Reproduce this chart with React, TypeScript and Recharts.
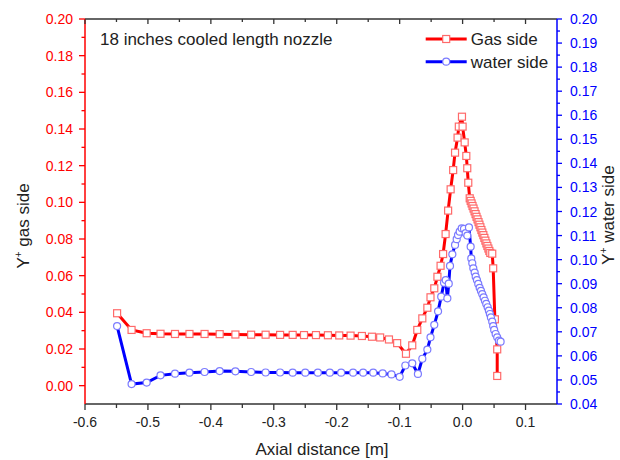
import React from 'react';
import { LineChart, Line, XAxis, YAxis, Customized } from 'recharts';

const FONT = '"Liberation Sans", Arial, Helvetica, sans-serif';

// Gas side (left axis)
const gasX = [
  -0.549, -0.526, -0.502, -0.48, -0.457, -0.434, -0.41, -0.386, -0.361, -0.336,
  -0.313, -0.29, -0.27, -0.252, -0.233, -0.214, -0.196, -0.178, -0.16, -0.144,
  -0.131, -0.117, -0.104, -0.09, -0.08, -0.072, -0.064, -0.056, -0.051, -0.045,
  -0.04, -0.035, -0.031, -0.027, -0.023, -0.019, -0.015, -0.012, -0.008, -0.006,
  -0.001, 0.0, 0.0033, 0.0059, 0.0074, 0.009, 0.0113,
  0.0128, 0.0143, 0.0158, 0.0174, 0.019, 0.0206, 0.0221, 0.0237, 0.0253, 0.0268,
  0.0283, 0.0299, 0.0314, 0.033, 0.0346, 0.0362, 0.0378, 0.0394, 0.041, 0.0425,
  0.044, 0.0471, 0.0486, 0.0513, 0.055, 0.055,
];
const gasY = [
  0.0395, 0.0304, 0.0286, 0.0283, 0.0282, 0.0282, 0.0282, 0.0281, 0.0279, 0.0278,
  0.0278, 0.0277, 0.0277, 0.0276, 0.0276, 0.0275, 0.0274, 0.0273, 0.0271, 0.0267,
  0.0263, 0.0252, 0.0232, 0.0174, 0.022, 0.0304, 0.0367, 0.0425, 0.0482, 0.0531,
  0.0594, 0.0654, 0.0718, 0.0827, 0.0955, 0.1071, 0.1176, 0.1271, 0.1353, 0.1413,
  0.1467, 0.1413, 0.1327, 0.1253, 0.1186, 0.1107, 0.1022,
  0.1008, 0.0994, 0.098, 0.0966, 0.0951, 0.0936, 0.0921, 0.0907, 0.0892, 0.0878,
  0.0864, 0.0849, 0.0835, 0.0821, 0.0806, 0.0791, 0.0776, 0.0762, 0.0748, 0.0735,
  0.0724, 0.072, 0.064, 0.0362, 0.0198, 0.0053,
];

// Water side (right axis)
const waterX = [
  -0.549, -0.526, -0.502, -0.48, -0.457, -0.434, -0.41, -0.386, -0.361, -0.336,
  -0.313, -0.29, -0.27, -0.25, -0.23, -0.211, -0.193, -0.174, -0.158, -0.142,
  -0.127, -0.113, -0.1, -0.091, -0.08, -0.071, -0.064, -0.056, -0.051, -0.045,
  -0.039, -0.034, -0.0295, -0.0268, -0.0242, -0.022, -0.02, -0.0163, -0.012, -0.0094,
  -0.0073, -0.0046, -0.0014, 0.0022, 0.0049, 0.0075, 0.0101,
  0.0128, 0.0138, 0.0154, 0.017, 0.0192, 0.0208, 0.0228, 0.0249, 0.0271, 0.0292,
  0.0312, 0.0334, 0.0355, 0.0376, 0.0398, 0.0418, 0.0434, 0.045, 0.0471, 0.0486,
  0.0502, 0.0525, 0.055, 0.0577, 0.0604,
];
const waterY = [
  0.0724, 0.0483, 0.0489, 0.0519, 0.0526, 0.053, 0.0533, 0.0537, 0.0536, 0.0533,
  0.0531, 0.0531, 0.053, 0.053, 0.053, 0.053, 0.053, 0.053, 0.053, 0.053,
  0.0527, 0.0523, 0.0513, 0.056, 0.0569, 0.0525, 0.0588, 0.0626, 0.0677, 0.0729,
  0.0785, 0.0846, 0.0904, 0.0915, 0.0839, 0.09, 0.0974, 0.1022, 0.1061, 0.1085,
  0.1102, 0.1116, 0.113, 0.1128, 0.111, 0.11, 0.1134,
  0.1054, 0.1005, 0.0985, 0.0964, 0.0946, 0.0929, 0.0915, 0.0899, 0.0883, 0.087,
  0.0857, 0.0843, 0.0829, 0.0816, 0.0802, 0.0788, 0.0774, 0.076, 0.0742, 0.0724,
  0.0708, 0.0691, 0.0677, 0.0663, 0.0659,
];

// Axis ticks
const xMajor = [-0.6, -0.5, -0.4, -0.3, -0.2, -0.1, 0.0, 0.1];
const xMinor = [-0.55, -0.45, -0.35, -0.25, -0.15, -0.05, 0.05];
const leftMajor = [0.0, 0.02, 0.04, 0.06, 0.08, 0.1, 0.12, 0.14, 0.16, 0.18, 0.2];
const leftMinor = [0.01, 0.03, 0.05, 0.07, 0.09, 0.11, 0.13, 0.15, 0.17, 0.19];
const rightMajor = [0.04, 0.05, 0.06, 0.07, 0.08, 0.09, 0.1, 0.11, 0.12, 0.13, 0.14, 0.15, 0.16, 0.17, 0.18, 0.19, 0.2];
const rightMinor = [0.045, 0.055, 0.065, 0.075, 0.085, 0.095, 0.105, 0.115, 0.125, 0.135, 0.145, 0.155, 0.165, 0.175, 0.185, 0.195];

const chartTitle = '18 inches cooled length nozzle';
const xTitle = 'Axial distance [m]';
const gasName = 'Gas side';
const waterName = 'water side';

const gasData = gasX.map((x, i) => ({ x, y: gasY[i] }));
const waterData = waterX.map((x, i) => ({ x, y: waterY[i] }));

const RED = '#ff0000';
const BLUE = '#0000ff';
const RED_MARK = '#ff6a6a';
const BLUE_MARK = '#7b7bff';
const AXIS_DARK = '#333333';

const isIn = (arr: number[], v: number) => arr.some((m) => Math.abs(m - v) < 1e-9);
const sortNums = (a: number[]) => [...a].sort((p, q) => p - q);

const BottomTick = (p: any) => {
  const { x, y, payload } = p;
  const v = payload.value;
  const major = isIn(xMajor, v);
  return (
    <g>
      <line x1={x} y1={y} x2={x} y2={y + (major ? 6 : 4)} stroke={AXIS_DARK} strokeWidth={1.3} />
      {major && (
        <text x={x} y={y + 23} textAnchor="middle" fontSize={14} fontFamily={FONT} fill="#222">
          {v.toFixed(1)}
        </text>
      )}
    </g>
  );
};

const TopTick = (p: any) => {
  const { x, y, payload } = p;
  const major = isIn(xMajor, payload.value);
  return <line x1={x} y1={y} x2={x} y2={y + (major ? 5 : 3)} stroke={AXIS_DARK} strokeWidth={1.3} />;
};

const LeftTick = (p: any) => {
  const { x, y, payload } = p;
  const v = payload.value;
  const major = isIn(leftMajor, v);
  return (
    <g>
      <line x1={x} y1={y} x2={x - (major ? 6 : 3.5)} y2={y} stroke={RED} strokeWidth={1.3} />
      {major && (
        <text x={x - 12} y={y} dy="0.36em" textAnchor="end" fontSize={14} fontFamily={FONT} fill={RED}>
          {v.toFixed(2)}
        </text>
      )}
    </g>
  );
};

const RightTick = (p: any) => {
  const { x, y, payload } = p;
  const v = payload.value;
  const major = isIn(rightMajor, v);
  return (
    <g>
      <line x1={x} y1={y} x2={x + (major ? 5 : 3)} y2={y} stroke={BLUE} strokeWidth={1.3} />
      {major && (
        <text x={x + 13} y={y} dy="0.36em" textAnchor="start" fontSize={14} fontFamily={FONT} fill={BLUE}>
          {v.toFixed(2)}
        </text>
      )}
    </g>
  );
};

const SquareDot = (p: any) => {
  const { cx, cy, index } = p;
  if (cx == null || cy == null) return <g key={`s${index}`} />;
  return (
    <rect key={`s${index}`} x={cx - 3.5} y={cy - 3.5} width={7} height={7} fill="#fff" stroke={RED_MARK} strokeWidth={1.2} />
  );
};

const CircleDot = (p: any) => {
  const { cx, cy, index } = p;
  if (cx == null || cy == null) return <g key={`c${index}`} />;
  return <circle key={`c${index}`} cx={cx} cy={cy} r={3.5} fill="#fff" stroke={BLUE_MARK} strokeWidth={1.2} />;
};

const Overlay = () => (
  <g fontFamily={FONT}>
    <text x={92} y={31} dy="0.36em" fontSize={17} fill="#222">
      {chartTitle}
    </text>
    {/* legend */}
    <line x1={417.7} y1={31} x2={458.7} y2={31} stroke={RED} strokeWidth={3} />
    <rect x={434.7} y={27.5} width={7} height={7} fill="#fff" stroke={RED_MARK} strokeWidth={1.2} />
    <text x={462.7} y={31} dy="0.36em" fontSize={17} fill="#222">
      {gasName}
    </text>
    <line x1={417.7} y1={53.7} x2={458.7} y2={53.7} stroke={BLUE} strokeWidth={3} />
    <circle cx={438.2} cy={53.7} r={3.5} fill="#fff" stroke={BLUE_MARK} strokeWidth={1.2} />
    <text x={462.7} y={53.7} dy="0.36em" fontSize={17} fill="#222">
      {waterName}
    </text>
    {/* axis titles */}
    <text x={21} y={218} transform="rotate(-90, 21, 218)" textAnchor="middle" fontSize={17} fill="#222">
      Y<tspan fontSize={10} dy={-7}>+</tspan>
      <tspan dy={7}> gas side</tspan>
    </text>
    <text x={606} y={207} transform="rotate(-90, 606, 207)" textAnchor="middle" fontSize={17} fill="#222">
      Y<tspan fontSize={10} dy={-7}>+</tspan>
      <tspan dy={7}> water side</tspan>
    </text>
    <text x={314} y={447} textAnchor="middle" fontSize={17} fill="#222">
      {xTitle}
    </text>
  </g>
);

export default function App() {
  const xTicks = sortNums([...xMajor, ...xMinor]);
  const lTicks = sortNums([...leftMajor, ...leftMinor]);
  const rTicks = sortNums([...rightMajor, ...rightMinor]);
  return (
    <div style={{ position: 'absolute', left: 8, top: 8, width: 612, height: 452 }}>
      <LineChart width={612} height={452} margin={{ top: 6, right: 13, bottom: 26, left: 17 }}>
        <XAxis
          xAxisId="bottom"
          dataKey="x"
          type="number"
          domain={[-0.6, 0.15]}
          allowDataOverflow
          ticks={xTicks}
          interval={0}
          height={30}
          tickSize={0}
          tickMargin={0}
          tickLine={false}
          axisLine={{ stroke: AXIS_DARK, strokeWidth: 1.5 }}
          tick={BottomTick}
        />
        <XAxis
          xAxisId="top"
          orientation="top"
          dataKey="x"
          type="number"
          domain={[-0.6, 0.15]}
          allowDataOverflow
          ticks={xTicks}
          interval={0}
          height={5}
          tickSize={0}
          tickMargin={0}
          tickLine={false}
          axisLine={{ stroke: AXIS_DARK, strokeWidth: 1.5 }}
          tick={TopTick}
        />
        <YAxis
          yAxisId="left"
          type="number"
          domain={[-0.01, 0.2]}
          allowDataOverflow
          ticks={lTicks}
          interval={0}
          width={60}
          tickSize={0}
          tickMargin={0}
          tickLine={false}
          axisLine={{ stroke: RED, strokeWidth: 1.5 }}
          tick={LeftTick}
        />
        <YAxis
          yAxisId="right"
          orientation="right"
          type="number"
          domain={[0.04, 0.2]}
          allowDataOverflow
          ticks={rTicks}
          interval={0}
          width={50}
          tickSize={0}
          tickMargin={0}
          tickLine={false}
          axisLine={{ stroke: BLUE, strokeWidth: 1.5 }}
          tick={RightTick}
        />
        <Line
          xAxisId="bottom"
          yAxisId="left"
          data={gasData}
          dataKey="y"
          type="linear"
          stroke={RED}
          strokeWidth={3}
          dot={SquareDot}
          activeDot={false}
          isAnimationActive={false}
        />
        <Line
          xAxisId="bottom"
          yAxisId="right"
          data={waterData}
          dataKey="y"
          type="linear"
          stroke={BLUE}
          strokeWidth={3}
          dot={CircleDot}
          activeDot={false}
          isAnimationActive={false}
        />
        <Customized component={Overlay} />
      </LineChart>
    </div>
  );
}
